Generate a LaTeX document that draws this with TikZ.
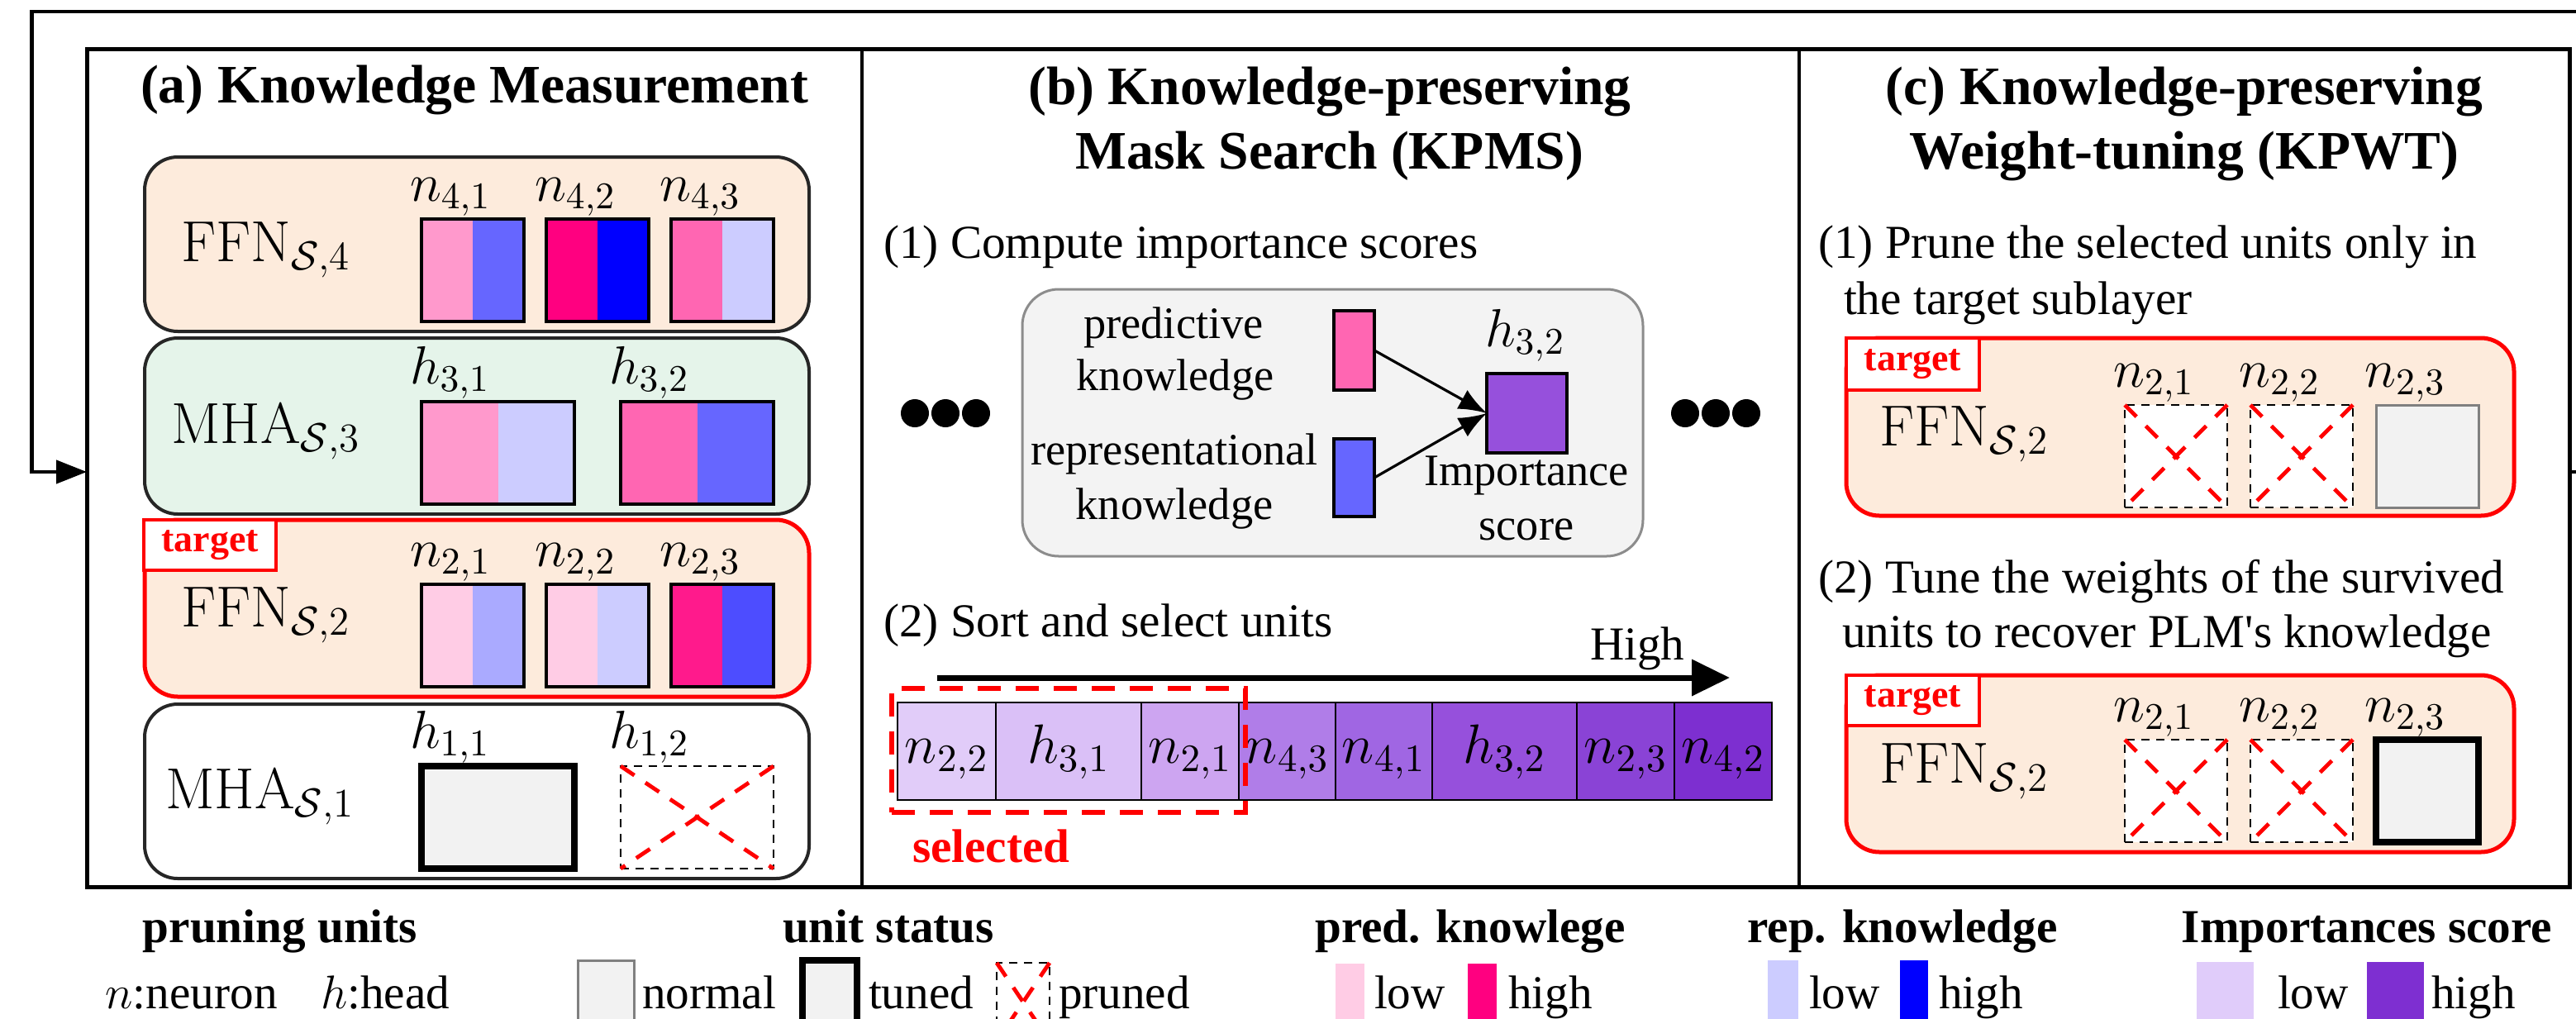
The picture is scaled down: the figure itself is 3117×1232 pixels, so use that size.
\RequirePackage{fix-cm}
\documentclass[tikz,border=0pt]{standalone}
\usepackage[no-math]{fontspec}
\setmainfont{Liberation Serif}
\newfontfamily\aposfont{Liberation Serif}
\usetikzlibrary{arrows.meta}
\definecolor{ffnbg}{HTML}{FDEBDC}
\definecolor{mhabg}{HTML}{E5F4EA}
\definecolor{graybox}{HTML}{F3F3F3}
\definecolor{normalfill}{HTML}{F2F2F2}
\definecolor{pka}{HTML}{FFCCE5}
\definecolor{pkb}{HTML}{FF99CC}
\definecolor{pkc}{HTML}{FF66B2}
\definecolor{pkd}{HTML}{FF1A8C}
\definecolor{pke}{HTML}{FF0080}
\definecolor{bla}{HTML}{CCCCFF}
\definecolor{blb}{HTML}{AAAAFF}
\definecolor{blc}{HTML}{6666FF}
\definecolor{bld}{HTML}{4D4DFF}
\definecolor{ble}{HTML}{0000FF}
\definecolor{pua}{HTML}{E1CCF9}
\definecolor{pub}{HTML}{DAC0F7}
\definecolor{puc}{HTML}{CDA5F1}
\definecolor{pud}{HTML}{B07DE8}
\definecolor{pue}{HTML}{A066E3}
\definecolor{puf}{HTML}{9650DC}
\definecolor{pug}{HTML}{8A43D6}
\definecolor{puh}{HTML}{7D2FD0}
\definecolor{pulow}{HTML}{E0CCFA}
\definecolor{puhigh}{HTML}{7E2FD1}

\newcommand{\pxbox}[6]{\node[#6, anchor=north west, minimum width=#4*0.25pt, minimum height=#5*0.25pt] (#1) at (#2,#3) {};}
\newcommand{\splitunit}[6]{%
  \fill[#5] (#2,#3) rectangle ({#2+#4/2},{#3+124});
  \fill[#6] ({#2+#4/2},#3) rectangle ({#2+#4},{#3+124});
  \node[unitbox, anchor=north west, minimum width=#4*0.25pt, minimum height=124*0.25pt] (#1) at (#2,#3) {};}
\newcommand{\prunedunit}[5]{%
  \node[prunedbox, anchor=north west, minimum width=#4*0.25pt, minimum height=#5*0.25pt] (#1) at (#2,#3) {};
  \draw[xline] (#1.north west) -- (#1.south east);
  \draw[xline] (#1.north east) -- (#1.south west);}
\newcommand{\ulabel}[4]{\node[lbl] (#1) at ({#2-14},{#3-22}) {$#4$};}
\newcommand{\barcell}[5]{%
  \node[draw=black, line width=0.7pt, fill=#4, anchor=north west, minimum width=(#3-#2)*0.25pt, minimum height=118*0.25pt] (#1) at (#2,850) {};
  \node[celltext] (#1t) at ({(#2+#3)/2},923) {$#5$};}

\begin{document}
\begin{tikzpicture}[x=0.25pt,y=-0.25pt,
  every node/.style={inner sep=0pt, outer sep=0pt},
  ttl/.style={font=\fontsize{16.4pt}{19.6pt}\selectfont\bfseries, anchor=base},
  body/.style={font=\fontsize{14.3pt}{17pt}\selectfont, anchor=base west},
  small/.style={font=\fontsize{13.6pt}{16pt}\selectfont, anchor=base},
  lbl/.style={font=\fontsize{16.25pt}{19pt}\selectfont, anchor=base west},
  celltext/.style={font=\fontsize{16.75pt}{19pt}\selectfont, anchor=base},
  layername/.style={font=\fontsize{17.5pt}{20pt}\selectfont, anchor=base},
  legbold/.style={font=\fontsize{14.3pt}{17pt}\selectfont\bfseries, anchor=base},
  sub/.style={rounded corners=10pt, line width=1pt},
  tag/.style={draw=red, fill=white, line width=1pt, text=red, font=\fontsize{11.5pt}{13pt}\selectfont\bfseries},
  unitbox/.style={draw=black, line width=0.9pt},
  tunedbox/.style={draw=black, line width=2.1pt, fill=normalfill},
  normalbox/.style={draw=black!50, line width=0.75pt, fill=normalfill},
  prunedbox/.style={draw=black, line width=0.7pt, dash pattern=on 2.5pt off 2pt, fill=white},
  xline/.style={draw=red, line width=1.2pt, dash pattern=on 5pt off 4pt},
  dot/.style={circle, fill=black, minimum size=8.5pt}
]
\useasboundingbox (0,0) rectangle (3117,1232);

% ---------- main frame and feedback loop ----------
\pxbox{main}{105}{59}{3004}{1014}{draw=black, line width=1.25pt}
\coordinate (fbin) at (105,571);
\coordinate (fbout) at (3109,571);
\draw[line width=1.1pt, -{Triangle[length=9.25pt,width=7pt]}]
  (fbout) -- (3140,571) -- (3140,14) -- (38.6,14) -- (38.6,571) -- (fbin);
\draw[line width=1pt] (1043,59) -- (1043,1073);
\draw[line width=1pt] (2177,59) -- (2177,1073);

% ---------- panel (a) ----------
\node[ttl] (ta) at (574,124.5) {(a) Knowledge Measurement};

\pxbox{LA4}{175}{190}{804}{211}{sub, draw=black!85, fill=ffnbg}
\pxbox{LA3}{175}{409}{804}{213}{sub, draw=black!85, fill=mhabg}
\pxbox{LA2}{175}{629}{804}{214}{sub, draw=red, line width=1.25pt, fill=ffnbg}
\pxbox{LA1}{175}{852}{804}{211}{sub, draw=black!85, fill=white}
\node[tag, anchor=north west, minimum width=40pt, minimum height=15.25pt] (tagA) at (174,629) {target};

\node[layername] (nA4) at (322,316) {$\mathrm{FFN}_{\mathcal{S},4}$};
\node[layername] (nA3) at (322,536) {$\mathrm{MHA}_{\mathcal{S},3}$};
\node[layername] (nA2) at (322,758) {$\mathrm{FFN}_{\mathcal{S},2}$};
\node[layername] (nA1) at (315,978) {$\mathrm{MHA}_{\mathcal{S},1}$};

\splitunit{n41}{510}{265}{124}{pkb}{blc}
\splitunit{n42}{661}{265}{124}{pke}{ble}
\splitunit{n43}{812}{265}{124}{pkc}{bla}
\ulabel{ln41}{510}{265}{n_{4,1}}
\ulabel{ln42}{661}{265}{n_{4,2}}
\ulabel{ln43}{812}{265}{n_{4,3}}

\splitunit{h31}{510}{486}{185}{pkb}{bla}
\splitunit{h32}{751}{486}{185}{pkc}{blc}
\ulabel{lh31}{510}{486}{h_{3,1}}
\ulabel{lh32}{751}{486}{h_{3,2}}

\splitunit{n21}{510}{707}{124}{pka}{blb}
\splitunit{n22}{661}{707}{124}{pka}{bla}
\splitunit{n23}{812}{707}{124}{pkd}{bld}
\ulabel{ln21}{510}{707}{n_{2,1}}
\ulabel{ln22}{661}{707}{n_{2,2}}
\ulabel{ln23}{812}{707}{n_{2,3}}

\pxbox{h11}{510}{927}{185}{124}{tunedbox}
\prunedunit{h12}{751}{927}{185}{124}
\ulabel{lh11}{510}{927}{h_{1,1}}
\ulabel{lh12}{751}{927}{h_{1,2}}

% ---------- panel (b) ----------
\node[ttl] (tb1) at (1609,126) {(b) Knowledge-preserving};
\node[ttl] (tb2) at (1609,204.6) {Mask Search (KPMS)};
\node[body] (b1) at (1069,312) {(1) Compute importance scores};

\pxbox{gbox}{1237}{350}{751}{323}{draw=black!45, line width=0.75pt, fill=graybox, rounded corners=11pt}
\node[small] (pkn1) at (1420,409) {predictive};
\node[small] (pkn2) at (1422,472.5) {knowledge};
\node[small] (rkn1) at (1421,562) {representational};
\node[small] (rkn2) at (1421,628) {knowledge};
\pxbox{predrect}{1614}{376}{49}{96}{unitbox, fill=pkc}
\pxbox{reprect}{1614}{531}{49}{94}{unitbox, fill=blc}
\pxbox{impsq}{1799}{452}{97}{96}{unitbox, fill=puf}
\node[lbl] (limp) at (1797,419) {$h_{3,2}$};
\node[small] (imp1) at (1847,587) {Importance};
\node[small] (imp2) at (1847,653) {score};
\draw[line width=0.8pt, -{Latex[length=8.5pt,width=6.5pt]}] (predrect.east) -- (impsq.west);
\draw[line width=0.8pt, -{Latex[length=8.5pt,width=6.5pt]}] (reprect.east) -- (impsq.west);

\node[dot] (dl1) at (1107,500) {};
\node[dot] (dl2) at (1144,500) {};
\node[dot] (dl3) at (1181,500) {};
\node[dot] (dr1) at (2039,500) {};
\node[dot] (dr2) at (2076,500) {};
\node[dot] (dr3) at (2113,500) {};

\node[body] (b2) at (1069,770) {(2) Sort and select units};
\node[body] (high) at (1924,798) {High};
\coordinate (hs) at (1134,820);
\coordinate (he) at (2093,820);
\draw[line width=1.75pt, -{Triangle[length=11.5pt,width=10.75pt]}] (hs) -- (he);

\barcell{c1}{1086}{1205}{pua}{n_{2,2}}
\barcell{c2}{1205}{1381}{pub}{h_{3,1}}
\barcell{c3}{1381}{1499}{puc}{n_{2,1}}
\barcell{c4}{1499}{1616}{pud}{n_{4,3}}
\barcell{c5}{1616}{1733}{pue}{n_{4,1}}
\barcell{c6}{1733}{1908}{puf}{h_{3,2}}
\barcell{c7}{1908}{2026}{pug}{n_{2,3}}
\barcell{c8}{2026}{2144}{puh}{n_{4,2}}
\pxbox{selbox}{1079}{833}{428}{150}{draw=red, line width=1.5pt, dash pattern=on 7pt off 4.5pt}
\node[font=\fontsize{14.3pt}{17pt}\selectfont\bfseries, text=red, anchor=base west] (sel) at (1104,1043) {selected};

% ---------- panel (c) ----------
\node[ttl] (tc1) at (2643,126) {(c) Knowledge-preserving};
\node[ttl] (tc2) at (2643,204.6) {Weight-tuning (KPWT)};
\node[body] (c1a) at (2200,312.5) {(1) Prune the selected units only in};
\node[body] (c1b) at (2231,380.6) {the target sublayer};

\pxbox{LC1}{2234}{409}{808}{215}{sub, draw=red, line width=1.25pt, fill=ffnbg}
\node[tag, anchor=north west, minimum width=40.25pt, minimum height=15.75pt] (tagC1) at (2234,409) {target};
\node[layername] (nC1) at (2377,539) {$\mathrm{FFN}_{\mathcal{S},2}$};
\prunedunit{cn21}{2571}{490}{124}{124}
\prunedunit{cn22}{2723}{490}{124}{124}
\pxbox{cn23}{2875}{490}{124}{124}{normalbox}
\ulabel{lcn21}{2571}{490}{n_{2,1}}
\ulabel{lcn22}{2723}{490}{n_{2,2}}
\ulabel{lcn23}{2875}{490}{n_{2,3}}

\node[body] (c2a) at (2200,717) {(2) Tune the weights of the survived};
\node[body] (c2b) at (2229,783) {units to recover PLM{\aposfont'}s knowledge};

\pxbox{LC2}{2234}{817}{808}{214}{sub, draw=red, line width=1.25pt, fill=ffnbg}
\node[tag, anchor=north west, minimum width=40.25pt, minimum height=15.25pt] (tagC2) at (2234,817) {target};
\node[layername] (nC2) at (2377,947) {$\mathrm{FFN}_{\mathcal{S},2}$};
\prunedunit{dn21}{2571}{895}{124}{124}
\prunedunit{dn22}{2723}{895}{124}{124}
\pxbox{dn23}{2875}{895}{124}{124}{tunedbox}
\ulabel{ldn21}{2571}{895}{n_{2,1}}
\ulabel{ldn22}{2723}{895}{n_{2,2}}
\ulabel{ldn23}{2875}{895}{n_{2,3}}

% ---------- legend ----------
\node[legbold] (lg1) at (339,1140) {pruning units};
\node[legbold] (lg2) at (1075,1140) {unit status};
\node[legbold] (lg3) at (1779,1140) {pred. knowlege};
\node[legbold] (lg4) at (2302,1140) {rep. knowledge};
\node[legbold] (lg5) at (2864,1140) {Importances score};

\node[body] (lgn) at (127.5,1220) {$n$:neuron};
\node[body] (lgh) at (388,1220) {$h$:head};
\pxbox{lgnorm}{699}{1162}{68}{95}{normalbox}
\node[body] (lgnt) at (777,1220) {normal};
\pxbox{lgtuned}{971}{1162}{66}{95}{tunedbox}
\node[body] (lgtt) at (1051,1220) {tuned};
\prunedunit{lgpr}{1206}{1165}{64}{95}
\node[body] (lgpt) at (1281,1220) {pruned};

\pxbox{sw1}{1616}{1166}{35}{90}{fill=pka}
\node[body] (sw1t) at (1663,1220) {low};
\pxbox{sw2}{1776}{1166}{35}{90}{fill=pke}
\node[body] (sw2t) at (1825,1220) {high};
\pxbox{sw3}{2139}{1162}{37}{90}{fill=bla}
\node[body] (sw3t) at (2189,1220) {low};
\pxbox{sw4}{2299}{1162}{34}{90}{fill=ble}
\node[body] (sw4t) at (2346,1220) {high};
\pxbox{sw5}{2658}{1164}{69}{90}{fill=pulow}
\node[body] (sw5t) at (2756,1220) {low};
\pxbox{sw6}{2864}{1164}{69}{90}{fill=puhigh}
\node[body] (sw6t) at (2942,1220) {high};
\end{tikzpicture}
\end{document}
